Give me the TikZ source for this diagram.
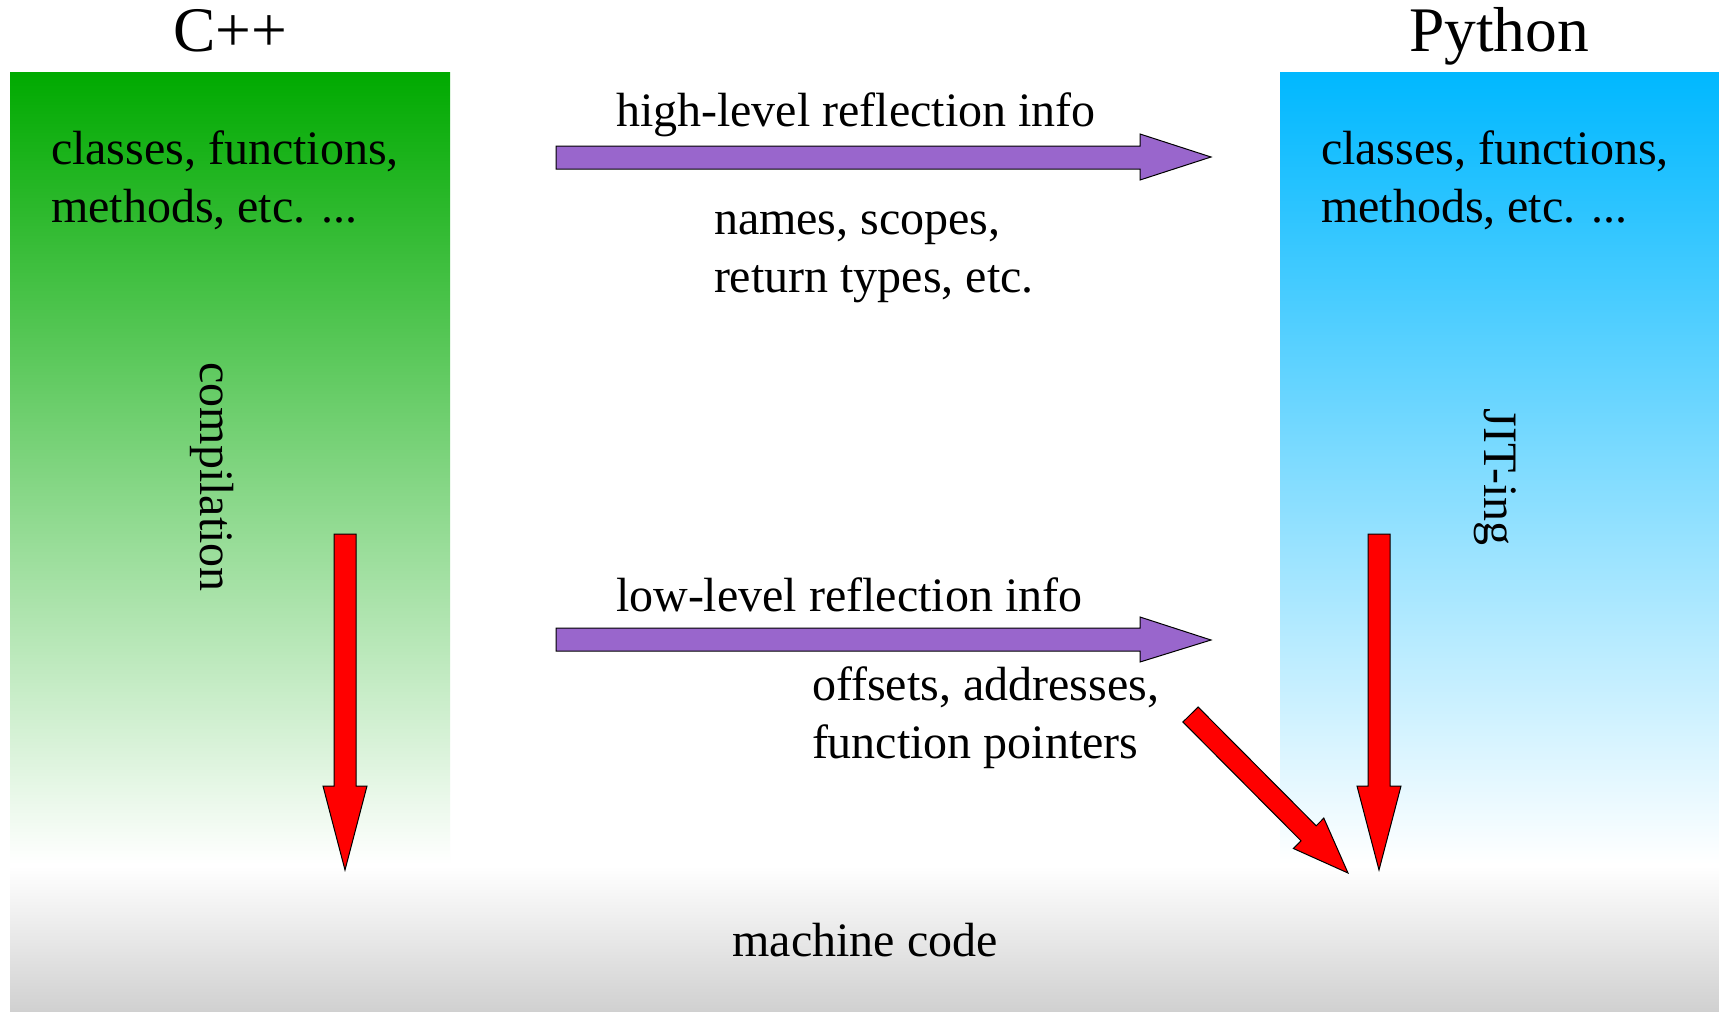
\documentclass[tikz,border=0pt]{standalone}
\usepackage{fontspec}
\setmainfont{Liberation Serif}
\definecolor{cppgreen}{RGB}{0,170,0}
\definecolor{pyblue}{RGB}{0,184,255}
\definecolor{bandgrey}{RGB}{208,208,208}
\definecolor{flowpurple}{RGB}{153,102,204}
\tikzset{
  txt/.style={inner sep=0pt, outer sep=0pt, font=\fontsize{48}{58}\selectfont, align=left},
  ttl/.style={inner sep=0pt, outer sep=0pt, font=\fontsize{63.5}{70}\selectfont},
  blockarrow/.style={draw=black, line width=1pt, line join=miter},
}
\begin{document}
\begin{tikzpicture}[x=1pt, y=-1pt]
  \useasboundingbox (0,0) rectangle (1719,1012);
  \fill[white] (0,0) rectangle (1719,1012);

  % language columns and the machine-code band
  \shade[top color=cppgreen, bottom color=white] (10,72) rectangle (450,864);
  \shade[top color=pyblue, bottom color=white] (1280,72) rectangle (1719,864);
  \shade[top color=white, bottom color=bandgrey] (10,866) rectangle (1719,1012);

  % titles
  \node[ttl, anchor=base] (cpp) at (230,51) {C++};
  \node[ttl, anchor=base] (py) at (1499,51) {Python};

  % column contents (two-line nodes are anchored on their last baseline)
  \node[txt, anchor=base west] (cppitems) at (51,222) {classes, functions,\\methods, etc. ...};
  \node[txt, anchor=base west] (pyitems) at (1321,222) {classes, functions,\\methods, etc. ...};
  \node[txt, rotate=-90] (comp) at (212,477) {compilation};
  \node[txt, rotate=-90] (jit) at (1495,477) {JIT-ing};

  % reflection info labels
  \node[txt, anchor=base west] (hi) at (616,126) {high-level reflection info};
  \node[txt, anchor=base west] (hidet) at (714,292) {names, scopes,\\return types, etc.};
  \node[txt, anchor=base west] (lo) at (616,611) {low-level reflection info};
  \node[txt, anchor=base west] (lodet) at (812,758) {offsets, addresses,\\function pointers};
  \node[txt, anchor=base] (mc) at (865,956) {machine code};

  % purple reflection arrows
  \filldraw[blockarrow, fill=flowpurple]
    (556,146) -- (1140,146) -- (1140,134) -- (1211,157) -- (1140,180) -- (1140,169) -- (556,169) -- cycle;
  \filldraw[blockarrow, fill=flowpurple]
    (556,628) -- (1140,628) -- (1140,617) -- (1211,640) -- (1140,662) -- (1140,651) -- (556,651) -- cycle;

  % red arrows down to machine code
  \filldraw[blockarrow, fill=red]
    (334,534) -- (356,534) -- (356,786) -- (367,786) -- (345,870) -- (323,786) -- (334,786) -- cycle;
  \filldraw[blockarrow, fill=red]
    (1368,534) -- (1390,534) -- (1390,786) -- (1401,786) -- (1379,870) -- (1357,786) -- (1368,786) -- cycle;
  \filldraw[blockarrow, fill=red]
    (1198.1,707.0) -- (1316.2,825.8) -- (1323.8,818.1) -- (1348,873) -- (1293.4,848.5) -- (1301.0,840.8) -- (1182.9,722.0) -- cycle;
\end{tikzpicture}
\end{document}
